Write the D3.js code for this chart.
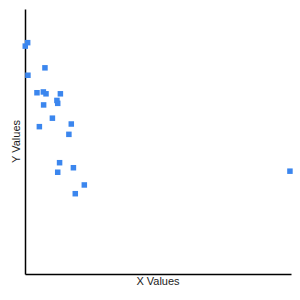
<!DOCTYPE html>
<html><head><meta charset="utf-8">
<script src="https://cdn.jsdelivr.net/npm/d3@7"></script>
<style>body{margin:0;background:#fff}svg{display:block}</style>
</head><body>
<svg id="chart" width="300" height="300"></svg>
<script>
const xValues = [1.0, 0.1, 7.5, 1.1, 4.5, 6.9, 7.9, 13.3, 12.0, 12.3, 7.0, 10.3, 17.4, 5.4, 16.5, 13.0, 18.2, 12.3, 22.3, 18.9, 99.6];
const yValues = [87.3, 86.0, 77.8, 75.0, 68.4, 68.7, 68.0, 68.0, 65.5, 64.4, 63.8, 58.8, 56.6, 55.6, 52.7, 42.0, 40.1, 38.4, 33.6, 30.3, 38.8];
const xLabel = "X Values";
const yLabel = "Y Values";

const svg = d3.select("#chart");
const margin = {left: 25, right: 9, top: 9, bottom: 26};
const W = 300, H = 300;
const x = d3.scaleLinear().domain([0, 100]).range([margin.left, W - margin.right]);
const y = d3.scaleLinear().domain([0, 100]).range([H - margin.bottom, margin.top]);

svg.append("g").attr("transform", `translate(0,${H - margin.bottom})`)
  .call(d3.axisBottom(x).ticks(0).tickSizeOuter(0))
  .call(g => g.select(".domain").attr("stroke", "#000").attr("stroke-width", 1.5));
svg.append("g").attr("transform", `translate(${margin.left},0)`)
  .call(d3.axisLeft(y).ticks(0).tickSizeOuter(0))
  .call(g => g.select(".domain").attr("stroke", "#000").attr("stroke-width", 1.5));

const s = 5.5;
svg.append("g").selectAll("rect").data(xValues.map((d, i) => [d, yValues[i]])).join("rect")
  .attr("x", d => x(d[0]) - s / 2).attr("y", d => y(d[1]) - s / 2)
  .attr("width", s).attr("height", s).attr("fill", "#3b86ee");

svg.append("text").attr("x", (margin.left + W - margin.right) / 2).attr("y", 285)
  .attr("text-anchor", "middle").attr("font-family", "Liberation Sans, Arial, sans-serif")
  .attr("font-size", 11).attr("fill", "#222").text(xLabel);
svg.append("text").attr("transform", `translate(20,${(margin.top + H - margin.bottom) / 2}) rotate(-90)`)
  .attr("text-anchor", "middle").attr("font-family", "Liberation Sans, Arial, sans-serif")
  .attr("font-size", 11).attr("fill", "#222").text(yLabel);
</script>
</body></html>
